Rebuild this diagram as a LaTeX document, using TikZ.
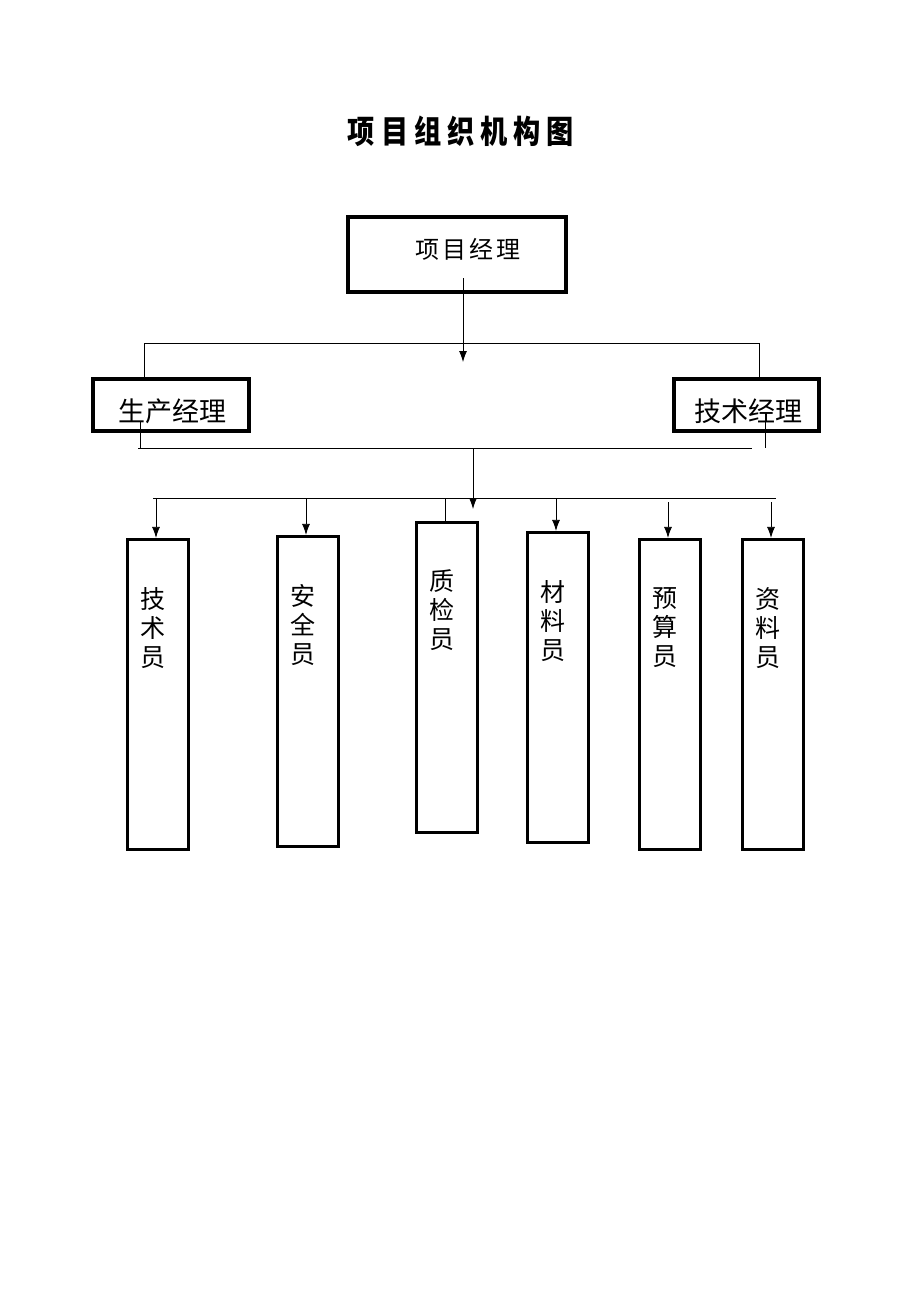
\documentclass[tikz,border=0pt]{standalone}
\usepackage{fontspec}
\newfontfamily\cjk{Noto Sans CJK SC}
\usetikzlibrary{arrows.meta,positioning}

\tikzset{
	box/.style={draw,rectangle,line width=3.2pt,inner sep=0pt},
	wire/.style={line width=0.8pt},
	arr/.style={wire,-{Latex[length=11pt,width=8pt]}},
	vtext/.style={inner sep=0pt,align=center,font=\cjk\fontsize{25}{29}\selectfont}
}

\begin{document}
\begin{tikzpicture}[x=1pt,y=-1pt,font=\cjk]
	\useasboundingbox (0,0) rectangle (920,1302);
	\node (title) at (461,131) {\scalebox{0.85}[1]{\fontsize{32}{32}\selectfont\bfseries 项\hspace{7pt}目\hspace{7pt}组\hspace{7pt}织\hspace{7pt}机\hspace{7pt}构\hspace{7pt}图}};

	\node[box,minimum width=218pt,minimum height=75pt] (pm) at (457,254.5) {};
	\node (pmtext) at (468,249) {\fontsize{24}{24}\selectfont 项\hspace{3pt}目\hspace{3pt}经\hspace{3pt}理};
	\node[box,minimum width=156pt,minimum height=52pt] (prod) at (171,405) {};
	\node (prodtext) at (172,411) {\fontsize{27}{27}\selectfont 生产经理};
	\node[box,minimum width=145pt,minimum height=52pt] (tech) at (746.5,405) {};
	\node (techtext) at (748,411) {\fontsize{27}{27}\selectfont 技术经理};

	\coordinate (m1) at (463,278);
	\coordinate (m2) at (463,362);
	\draw[arr] (m1) -- (m2);
	\coordinate (bl) at (144,343);
	\coordinate (br) at (759,343);
	\draw[wire] (prod.north -| bl) -- (bl) -- (br) -- (tech.north -| br);

	\coordinate (pl) at (140,422);
	\coordinate (pr) at (765,422);
	\draw[wire] (pl) -- (140,448);
	\draw[wire] (pr) -- (765,448);
	\coordinate (busa) at (138,448);
	\coordinate (busb) at (752,448);
	\draw[wire] (busa) -- (busb);
	\coordinate (drop) at (473,448);
	\coordinate (droptip) at (473,509);
	\draw[arr] (drop) -- (droptip);
	\coordinate (busc) at (153,498);
	\coordinate (busd) at (776,498);
	\draw[wire] (busc) -- (busd);

	\foreach \name/\x/\y/\ax/\ay/\st/\txt in {
		b1/158/694.5/156/498/arr/{技\\术\\员},
		b2/308/691.5/306/498/arr/{安\\全\\员},
		b3/447/677.5/445/498/wire/{质\\检\\员},
		b4/558/687.5/556/498/arr/{材\\料\\员},
		b5/670/694.5/668/502/arr/{预\\算\\员},
		b6/773/694.5/771/502/arr/{资\\料\\员}} {
		\node[box,minimum width=61pt,minimum height=310pt] (\name) at (\x,\y) {};
		\node[vtext,below=49pt of \name.north,xshift=-5pt] (\name text) {\txt};
		\coordinate (t\name) at (\ax,\ay);
		\draw[\st] (t\name) -- (t\name |- \name.north);
	}
\end{tikzpicture}
\end{document}
